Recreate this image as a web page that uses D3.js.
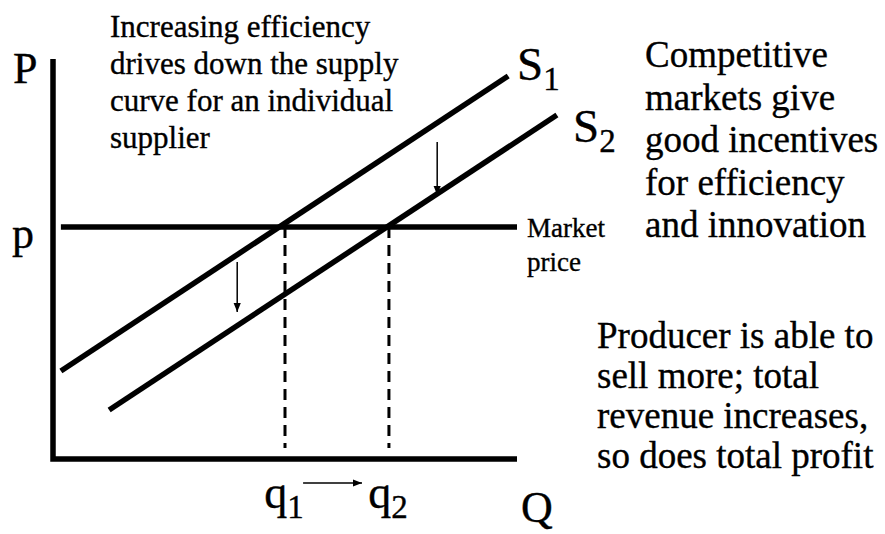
<!DOCTYPE html>
<html><head><meta charset="utf-8">
<script src="https://cdn.jsdelivr.net/npm/d3@7"></script>
<style>
body{margin:0;background:#fff}
svg{display:block}
</style>
</head><body>
<svg id="chart" width="885" height="534" font-family="'Liberation Serif', 'Times New Roman', Times, serif"></svg>
<script>
// ---- data (Q and P in abstract units 0..100) ----
const supplyNames = ["S", "S"];
const supplySubs = ["1", "2"];
const s1Points = [[1.7, 22], [98.1, 95.75]];
const s2Points = [[12.1, 12.25], [108.6, 86]];
const marketPrice = 58;
const priceLineQ = [1.7, 100];
const quantities = [50, 72.4];
const quantitySubs = ["1", "2"];
const dashBottomP = 2.75;
const shiftArrowQ = [39.7, 82.8];
const shiftArrowFromP = [49.25, 79.25];
const shiftArrowToP = [36.75, 66];
const qArrowQ = [53.9, 66.6];
const qArrowP = -6;
const noteTopLeft = ["Increasing efficiency", "drives down the supply", "curve for an individual", "supplier"];
const noteTopRight = ["Competitive", "markets give", "good incentives", "for efficiency", "and innovation"];
const noteBottomRight = ["Producer is able to", "sell more; total", "revenue increases,", "so does total profit"];
const priceNote = ["Market", "price"];

const FONT = "'Liberation Serif', 'Times New Roman', Times, serif";
const svg = d3.select("#chart");
const x = d3.scaleLinear().domain([0, 100]).range([53, 517]);
const y = d3.scaleLinear().domain([0, 100]).range([459, 59]);

const defs = svg.append("defs");
defs.append("marker").attr("id", "ah")
  .attr("viewBox", "0 0 10 10").attr("refX", 10).attr("refY", 5)
  .attr("markerWidth", 9).attr("markerHeight", 9)
  .attr("markerUnits", "userSpaceOnUse").attr("orient", "auto")
  .append("path").attr("d", "M0,1 L10,5 L0,9 Z").attr("fill", "#000");

// axes
svg.append("path")
  .attr("d", `M${x(0)},${y(100)} L${x(0)},${y(0)} L${x(100)},${y(0)}`)
  .attr("fill", "none").attr("stroke", "#000").attr("stroke-width", 5.5);

const line = d3.line().x(d => x(d[0])).y(d => y(d[1]));

// dashed verticals
svg.selectAll(".dash").data(quantities).join("line")
  .attr("x1", d => x(d)).attr("x2", d => x(d))
  .attr("y1", y(marketPrice)).attr("y2", y(dashBottomP))
  .attr("stroke", "#000").attr("stroke-width", 3)
  .attr("stroke-dasharray", "11,7");

// price line
svg.append("path").attr("d", line(priceLineQ.map(q => [q, marketPrice])))
  .attr("stroke", "#000").attr("stroke-width", 5.5).attr("fill", "none");

// supply curves
[s1Points, s2Points].forEach(pts => {
  svg.append("path").attr("d", line(pts))
    .attr("stroke", "#000").attr("stroke-width", 5.5).attr("fill", "none");
});

// shift arrows
shiftArrowQ.forEach((q, i) => {
  svg.append("line")
    .attr("x1", x(q)).attr("x2", x(q))
    .attr("y1", y(shiftArrowFromP[i])).attr("y2", y(shiftArrowToP[i]))
    .attr("stroke", "#000").attr("stroke-width", 1.5)
    .attr("marker-end", "url(#ah)");
});
svg.append("line")
  .attr("x1", x(qArrowQ[0])).attr("x2", x(qArrowQ[1]))
  .attr("y1", y(qArrowP)).attr("y2", y(qArrowP))
  .attr("stroke", "#000").attr("stroke-width", 1.5)
  .attr("marker-end", "url(#ah)");

function txt(xp, yp, size) {
  return svg.append("text").attr("x", xp).attr("y", yp)
    .attr("font-size", size).attr("font-family", FONT).attr("fill", "#000")
    .attr("stroke", "#000").attr("stroke-width", 0.35);
}

// axis letters
txt(13, 83, 44).text("P");
txt(12, 248, 44).text("p");
txt(521, 522, 44).text("Q");

// q labels
quantities.forEach((q, i) => {
  const t = txt(x(q) - 1, 508, 46).attr("text-anchor", "middle");
  t.append("tspan").text("q");
  t.append("tspan").attr("font-size", 33).attr("dy", 10).text(quantitySubs[i]);
});

// S labels
const sLabelPos = [[517, 80], [573, 142]];
supplyNames.forEach((n, i) => {
  const t = txt(sLabelPos[i][0], sLabelPos[i][1], 47);
  t.append("tspan").text(n);
  t.append("tspan").attr("font-size", 33).attr("dy", 10).text(supplySubs[i]);
});

function block(lines, x0, y0, dy, size) {
  const t = txt(x0, y0, size);
  lines.forEach((l, i) => t.append("tspan").attr("x", x0).attr("y", y0 + i * dy).text(l));
}
block(noteTopLeft, 110, 37, 37, 31);
block(noteTopRight, 645, 67, 42.5, 37);
block(noteBottomRight, 597, 348, 40, 37);
block(priceNote, 527, 237, 34, 27);
</script>
</body></html>
